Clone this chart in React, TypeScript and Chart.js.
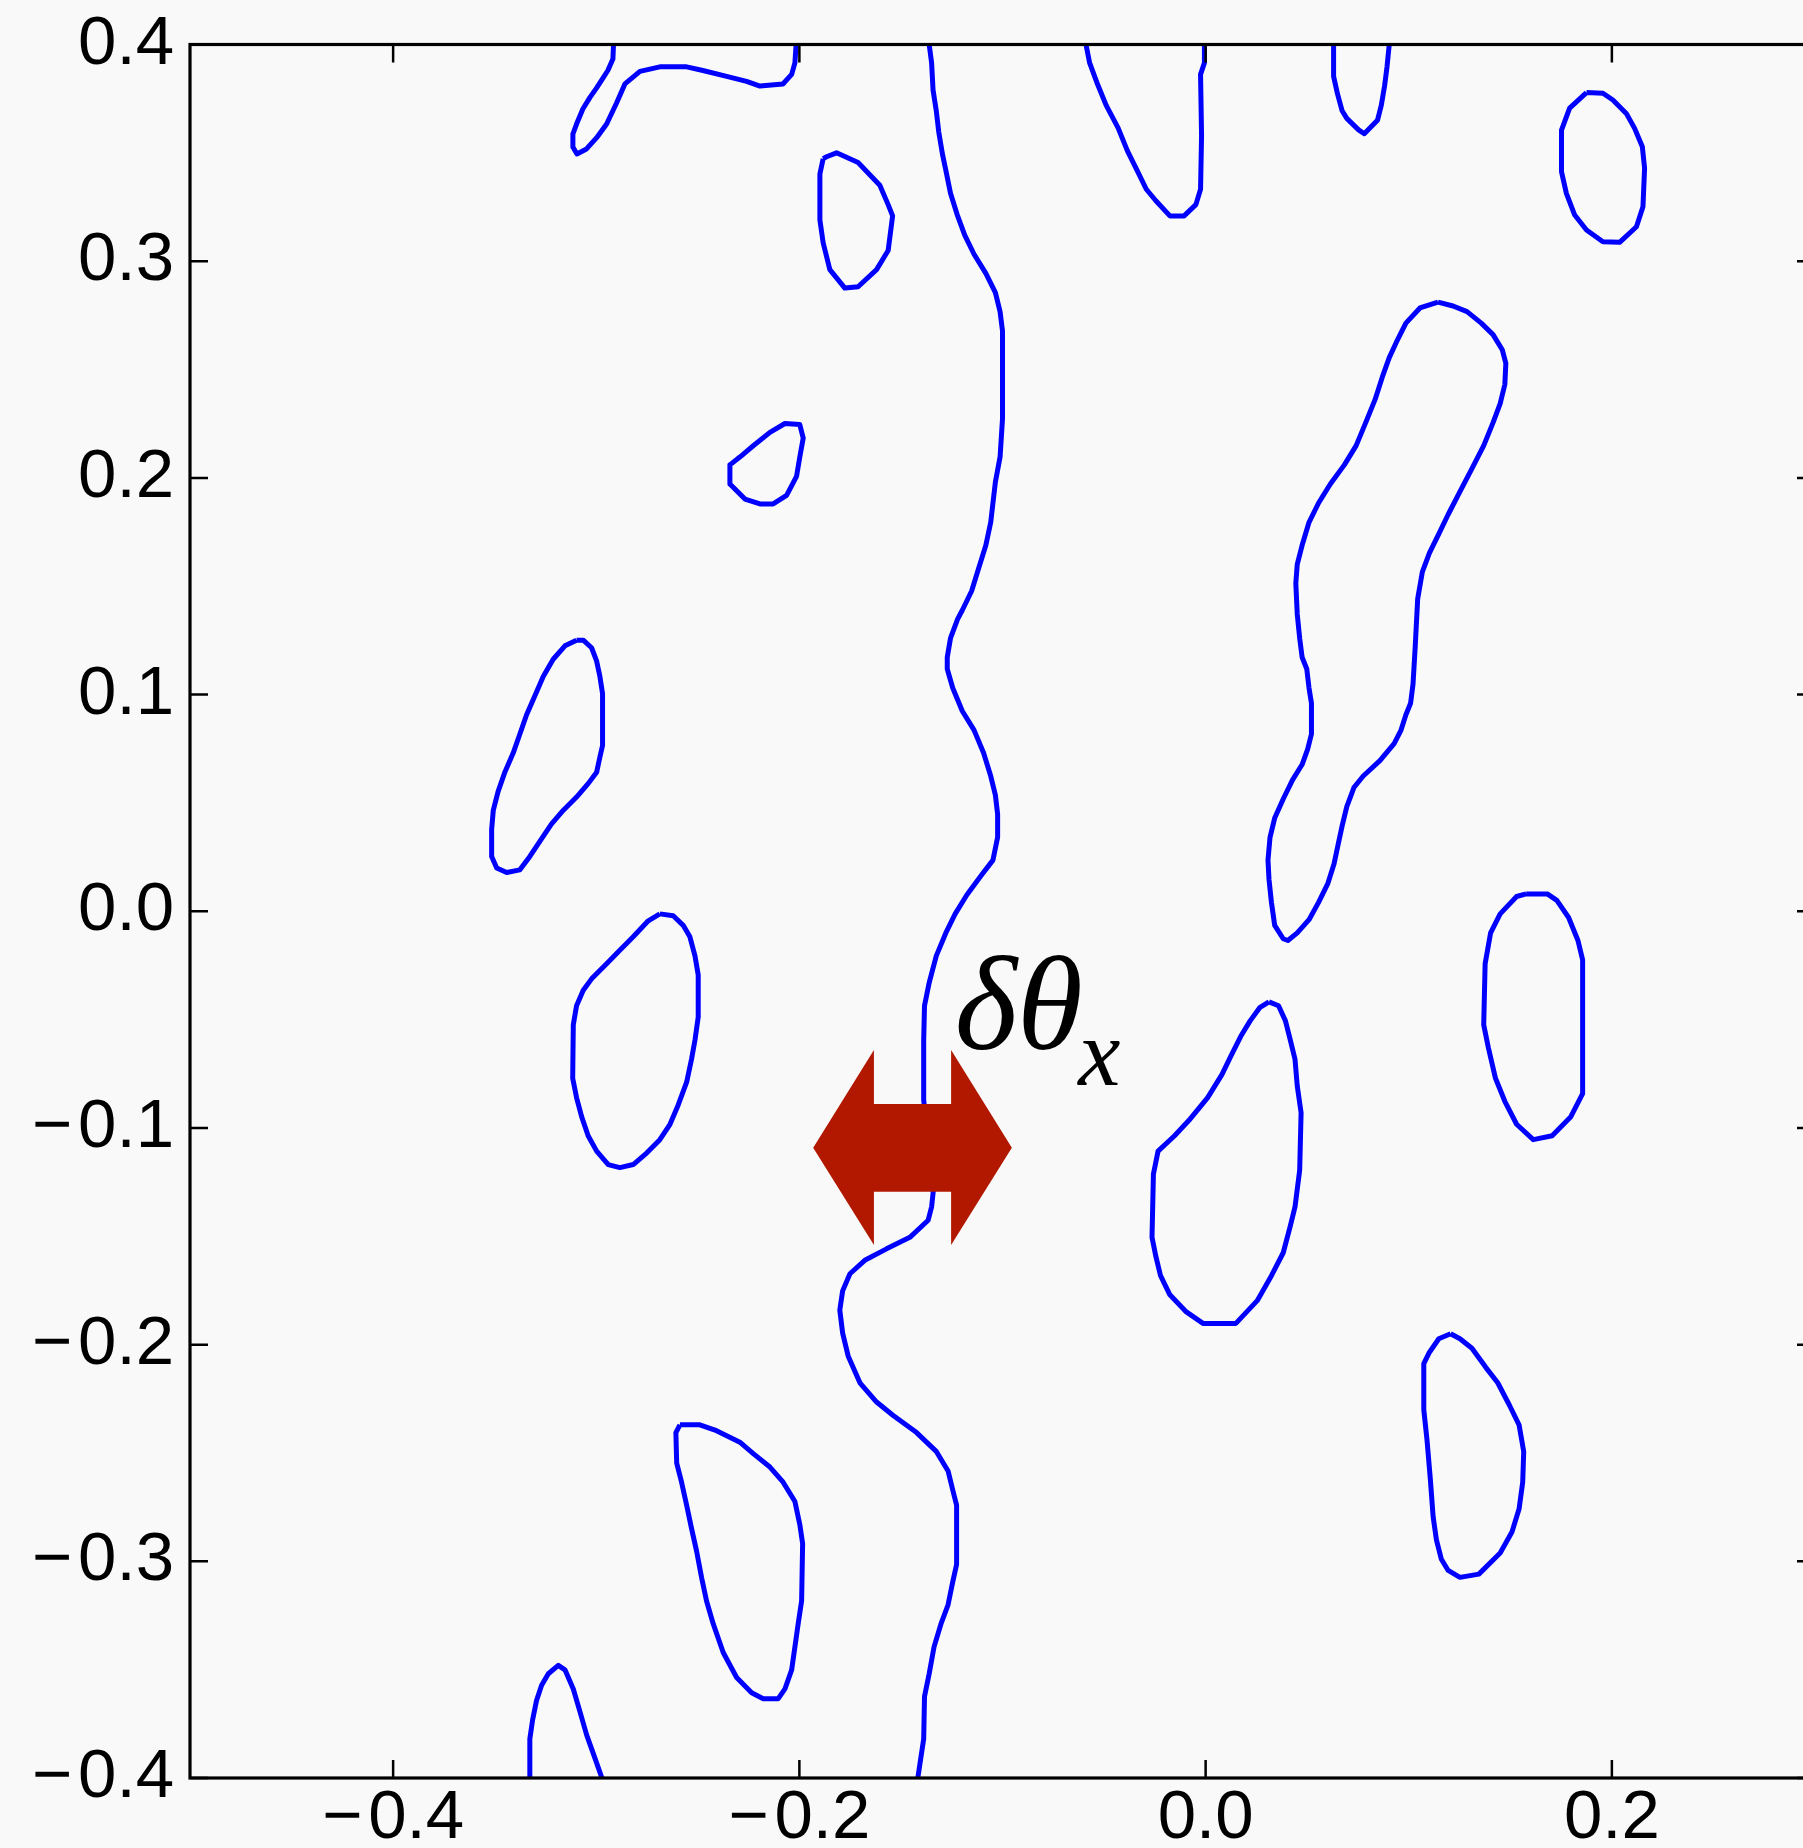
import React, { useEffect, useRef } from 'react';
import { Chart, registerables } from 'chart.js';

Chart.register(...registerables);

// ---- axis ticks ----
const xTicks = [-0.4, -0.2, 0.0, 0.2];
const yTicks = [-0.4, -0.3, -0.2, -0.1, 0.0, 0.1, 0.2, 0.3, 0.4];
const xRange = [-0.5, 0.3];
const yRange = [-0.4, 0.4];

// ---- contour lines (x, y) ----
const hookTopLeft: number[][] = [
  [-0.2915, 0.4], [-0.2918, 0.3933], [-0.2943, 0.388], [-0.2967, 0.3845], [-0.2998, 0.38], [-0.3031, 0.3756],
  [-0.3066, 0.3702], [-0.3097, 0.3633], [-0.3115, 0.3587], [-0.3115, 0.3527], [-0.3095, 0.3495], [-0.3048, 0.3518],
  [-0.2998, 0.357], [-0.2949, 0.3633], [-0.29, 0.373], [-0.2859, 0.3818], [-0.2785, 0.3876], [-0.2687, 0.3897],
  [-0.2555, 0.3897], [-0.2475, 0.388], [-0.2358, 0.3853], [-0.226, 0.383], [-0.2194, 0.3808], [-0.2081, 0.3818],
  [-0.2038, 0.3862], [-0.2022, 0.3915], [-0.2016, 0.4],
];
const ovalUpperLeft: number[][] = [
  [-0.1883, 0.3473], [-0.1899, 0.3402], [-0.1899, 0.3191], [-0.1883, 0.3085], [-0.185, 0.2961], [-0.1776, 0.2876],
  [-0.1711, 0.2882], [-0.162, 0.2961], [-0.1563, 0.3049], [-0.1541, 0.3209], [-0.1563, 0.3261], [-0.1604, 0.335],
  [-0.1711, 0.3455], [-0.1817, 0.35], [-0.1866, 0.3482], [-0.1883, 0.3473],
];
const dropUpperLeft: number[][] = [
  [-0.2342, 0.206], [-0.2342, 0.1972], [-0.2268, 0.1902], [-0.2194, 0.188], [-0.2129, 0.188], [-0.2063, 0.1919],
  [-0.2014, 0.2007], [-0.1998, 0.2096], [-0.1981, 0.2184], [-0.1998, 0.2246], [-0.2071, 0.2251], [-0.2145, 0.221],
  [-0.2227, 0.2148], [-0.2293, 0.2096], [-0.2342, 0.206],
];
const mainRidge: number[][] = [
  [-0.1361, 0.4], [-0.1349, 0.3915], [-0.1342, 0.3791], [-0.1326, 0.3694], [-0.1314, 0.3597], [-0.1295, 0.3491],
  [-0.1279, 0.342], [-0.1256, 0.3314], [-0.1221, 0.3209], [-0.1186, 0.312], [-0.114, 0.3032], [-0.1082, 0.2944],
  [-0.1035, 0.2855], [-0.1012, 0.2767], [-0.1, 0.2678], [-0.1, 0.2272], [-0.1012, 0.2096], [-0.1035, 0.1981],
  [-0.1047, 0.1884], [-0.1058, 0.1795], [-0.1082, 0.1689], [-0.1117, 0.1584], [-0.1152, 0.1478], [-0.1198, 0.1389],
  [-0.1221, 0.1348], [-0.1256, 0.126], [-0.1272, 0.1172], [-0.1272, 0.1118], [-0.1245, 0.103], [-0.1198, 0.0924],
  [-0.114, 0.0836], [-0.1093, 0.073], [-0.1058, 0.0624], [-0.1035, 0.0536], [-0.1024, 0.0447], [-0.1024, 0.0341],
  [-0.1047, 0.0236], [-0.1105, 0.0165], [-0.1175, 0.0076], [-0.1233, -0.0012], [-0.1279, -0.01], [-0.1326, -0.0206],
  [-0.1361, -0.033], [-0.1384, -0.0436], [-0.1388, -0.0595], [-0.1388, -0.0871], [-0.1341, -0.1293], [-0.1349, -0.1364],
  [-0.1366, -0.1426], [-0.1456, -0.1505], [-0.1571, -0.1558], [-0.1678, -0.1611], [-0.1751, -0.1673], [-0.1787, -0.1752],
  [-0.1801, -0.1841], [-0.1787, -0.1947], [-0.176, -0.2052], [-0.1702, -0.2176], [-0.162, -0.2265], [-0.1538, -0.2327],
  [-0.1423, -0.2406], [-0.1325, -0.2494], [-0.1268, -0.2583], [-0.1245, -0.2671], [-0.1226, -0.2741], [-0.1226, -0.3015],
  [-0.1245, -0.3095], [-0.1268, -0.3201], [-0.1303, -0.3289], [-0.1337, -0.3395], [-0.1361, -0.3519], [-0.1384, -0.3624],
  [-0.1388, -0.3819], [-0.1417, -0.4],
];
const vTopCenter: number[][] = [
  [-0.0589, 0.4], [-0.0571, 0.3915], [-0.0536, 0.3826], [-0.049, 0.372], [-0.0431, 0.3615], [-0.0385, 0.3509],
  [-0.0338, 0.342], [-0.0292, 0.3332], [-0.0245, 0.3279], [-0.0176, 0.3209], [-0.0106, 0.3209], [-0.0048, 0.3261],
  [-0.0025, 0.3332], [-0.002, 0.3579], [-0.0025, 0.3862], [-0.0006, 0.3915], [-0.0006, 0.4],
];
const uTopRight: number[][] = [
  [0.063, 0.4], [0.063, 0.3853], [0.0649, 0.3773], [0.0672, 0.3694], [0.0695, 0.3659], [0.0753, 0.3606],
  [0.0781, 0.3588], [0.0846, 0.365], [0.0865, 0.372], [0.0881, 0.3809], [0.0893, 0.3897], [0.0904, 0.4],
];
const ovalTopRight: number[][] = [
  [0.1875, 0.3778], [0.1792, 0.3706], [0.1752, 0.3605], [0.1752, 0.3413], [0.1776, 0.3313], [0.1817, 0.3213],
  [0.1875, 0.3144], [0.1956, 0.309], [0.2038, 0.3087], [0.2121, 0.3159], [0.2153, 0.3251], [0.2161, 0.3429],
  [0.215, 0.3528], [0.2112, 0.3613], [0.2071, 0.3682], [0.2005, 0.3744], [0.1956, 0.3775], [0.1875, 0.3778],
];
const longLobe: number[][] = [
  [0.1144, 0.2811], [0.1055, 0.2784], [0.0986, 0.2714], [0.0939, 0.2626], [0.0904, 0.2555], [0.087, 0.2466],
  [0.0834, 0.2361], [0.0788, 0.2255], [0.0741, 0.2149], [0.0683, 0.206], [0.0614, 0.1972], [0.0556, 0.1884],
  [0.0509, 0.1795], [0.0475, 0.1689], [0.0451, 0.1601], [0.0444, 0.1513], [0.0451, 0.1372], [0.0463, 0.126],
  [0.0475, 0.1172], [0.0498, 0.1118], [0.0509, 0.103], [0.0521, 0.096], [0.0521, 0.0818], [0.0502, 0.0747],
  [0.0475, 0.0677], [0.0428, 0.0606], [0.0382, 0.0518], [0.034, 0.043], [0.0317, 0.0341], [0.0307, 0.0236],
  [0.0312, 0.0147], [0.0324, 0.0041], [0.034, -0.0065], [0.0382, -0.0127], [0.0405, -0.0135], [0.0451, -0.01],
  [0.0509, -0.0039], [0.0556, 0.0041], [0.0602, 0.0129], [0.0632, 0.0218], [0.0656, 0.0324], [0.0672, 0.0394],
  [0.0695, 0.0483], [0.073, 0.0571], [0.0776, 0.0624], [0.0858, 0.0695], [0.0928, 0.0774], [0.0962, 0.0836],
  [0.0986, 0.0907], [0.1009, 0.096], [0.1021, 0.1048], [0.1032, 0.1225], [0.1044, 0.1442], [0.1067, 0.1566],
  [0.1102, 0.1654], [0.1148, 0.1742], [0.1194, 0.1831], [0.1252, 0.1937], [0.1311, 0.2043], [0.1369, 0.2149],
  [0.1415, 0.2255], [0.145, 0.2343], [0.1473, 0.2431], [0.1478, 0.2528], [0.1461, 0.259], [0.1415, 0.2661],
  [0.1357, 0.2714], [0.1287, 0.2767], [0.1218, 0.2793], [0.1144, 0.2811],
];
const leftUpper: number[][] = [
  [-0.3097, 0.1251], [-0.3154, 0.1225], [-0.3212, 0.1163], [-0.3261, 0.1083], [-0.3302, 0.0995], [-0.3343, 0.0907],
  [-0.3376, 0.0818], [-0.3409, 0.073], [-0.345, 0.0642], [-0.3483, 0.0553], [-0.3507, 0.0465], [-0.3515, 0.0377],
  [-0.3515, 0.0253], [-0.349, 0.02], [-0.3441, 0.0179], [-0.3376, 0.0191], [-0.3327, 0.0253], [-0.3277, 0.0324],
  [-0.322, 0.0403], [-0.3163, 0.0465], [-0.3097, 0.0527], [-0.304, 0.0589], [-0.2998, 0.0642], [-0.2982, 0.0712],
  [-0.2969, 0.0765], [-0.2969, 0.1004], [-0.2982, 0.1083], [-0.2998, 0.1154], [-0.3023, 0.1216], [-0.3064, 0.1251],
  [-0.3097, 0.1251],
];
const leftMiddle: number[][] = [
  [-0.2687, -0.0012], [-0.2744, -0.0044], [-0.2818, -0.0118], [-0.2884, -0.018], [-0.2949, -0.0242], [-0.3023, -0.0312],
  [-0.3064, -0.0365], [-0.3097, -0.0436], [-0.3113, -0.0524], [-0.3116, -0.0771], [-0.3097, -0.086], [-0.3072, -0.0948],
  [-0.304, -0.1036], [-0.2998, -0.1107], [-0.2941, -0.1169], [-0.2884, -0.1183], [-0.2818, -0.1169], [-0.2752, -0.1116],
  [-0.2687, -0.1054], [-0.2637, -0.0983], [-0.2597, -0.0895], [-0.2555, -0.0789], [-0.2531, -0.0683], [-0.2514, -0.0595],
  [-0.2498, -0.0488], [-0.2498, -0.0294], [-0.2514, -0.0206], [-0.2539, -0.0118], [-0.2572, -0.0065], [-0.2621, -0.0021],
  [-0.2687, -0.0012],
];
const centerLower: number[][] = [
  [0.0312, -0.0418], [0.0266, -0.0445], [0.0219, -0.0506], [0.0173, -0.0577], [0.0126, -0.0665], [0.008, -0.0754],
  [0.001, -0.086], [-0.0083, -0.0966], [-0.0153, -0.1036], [-0.0234, -0.1107], [-0.0257, -0.1213], [-0.0264, -0.1505],
  [-0.0245, -0.1593], [-0.0222, -0.1682], [-0.0176, -0.177], [-0.0095, -0.1849], [-0.0013, -0.1902], [0.0149, -0.1902],
  [0.0254, -0.1797], [0.0324, -0.1682], [0.0382, -0.1576], [0.0417, -0.1452], [0.044, -0.1364], [0.0463, -0.1195],
  [0.047, -0.093], [0.0451, -0.0806], [0.044, -0.0683], [0.0417, -0.0595], [0.0393, -0.0506], [0.0359, -0.0436],
  [0.0312, -0.0418],
];
const rightMiddle: number[][] = [
  [0.1578, 0.008], [0.1531, 0.0068], [0.145, -0.0012], [0.1403, -0.01], [0.1376, -0.0242], [0.1369, -0.0524],
  [0.1392, -0.063], [0.1427, -0.0771], [0.1473, -0.0877], [0.1531, -0.0983], [0.1613, -0.1054], [0.1706, -0.1036],
  [0.1798, -0.0948], [0.1856, -0.0842], [0.1856, -0.0224], [0.1833, -0.0135], [0.1787, -0.0029], [0.1729, 0.005],
  [0.1682, 0.008], [0.1578, 0.008],
];
const rightLower: number[][] = [
  [0.1206, -0.195], [0.1148, -0.1973], [0.1102, -0.2035], [0.1074, -0.2088], [0.1074, -0.23], [0.109, -0.2441],
  [0.1106, -0.2618], [0.112, -0.2794], [0.1136, -0.29], [0.116, -0.2989], [0.1194, -0.3042], [0.1252, -0.3074],
  [0.1345, -0.3059], [0.145, -0.2962], [0.1508, -0.2865], [0.1543, -0.2759], [0.1561, -0.2635], [0.1566, -0.2494],
  [0.1543, -0.237], [0.1497, -0.2282], [0.1438, -0.2176], [0.138, -0.2106], [0.1311, -0.2017], [0.1252, -0.1973],
  [0.1206, -0.195],
];
const leftLowerDrop: number[][] = [
  [-0.2588, -0.237], [-0.2608, -0.2406], [-0.2604, -0.2547], [-0.258, -0.2635], [-0.2555, -0.2741], [-0.2531, -0.2848],
  [-0.2506, -0.2953], [-0.2481, -0.3077], [-0.2457, -0.3183], [-0.2424, -0.3289], [-0.2375, -0.3421], [-0.2309, -0.3536],
  [-0.2235, -0.3607], [-0.2178, -0.3634], [-0.2104, -0.3634], [-0.2071, -0.3589], [-0.2038, -0.3501], [-0.2022, -0.3395],
  [-0.2006, -0.3289], [-0.1989, -0.3183], [-0.1984, -0.2918], [-0.1998, -0.283], [-0.2022, -0.2724], [-0.208, -0.2635],
  [-0.2145, -0.2565], [-0.2227, -0.2503], [-0.2293, -0.245], [-0.2408, -0.2397], [-0.249, -0.237], [-0.2588, -0.237],
];
const bottomLeft: number[][] = [
  [-0.3327, -0.4], [-0.3327, -0.3819], [-0.3313, -0.373], [-0.3294, -0.3642], [-0.3269, -0.3572], [-0.3236, -0.3519],
  [-0.3187, -0.348], [-0.3154, -0.3501], [-0.3113, -0.3589], [-0.308, -0.3695], [-0.3047, -0.3802], [-0.3007, -0.3907],
  [-0.2972, -0.4],
];

const contours = [
  hookTopLeft, ovalUpperLeft, dropUpperLeft, mainRidge, vTopCenter, uTopRight, ovalTopRight, longLobe,
  leftUpper, leftMiddle, centerLower, rightMiddle, rightLower, leftLowerDrop, bottomLeft,
];

// ---- annotation: double arrow polygon and label anchors ----
const arrowShape: number[][] = [
  [-0.1932, -0.1091], [-0.1633, -0.064], [-0.1633, -0.089], [-0.1253, -0.089], [-0.1253, -0.064],
  [-0.0954, -0.1091], [-0.1253, -0.154], [-0.1253, -0.1294], [-0.1633, -0.1294], [-0.1633, -0.154],
  [-0.1932, -0.1091],
];
const labelMain = { text: 'δθ', x: -0.1235, y: -0.0636 };
const labelSub = { text: 'x', x: -0.0627, y: -0.0802 };

const CONTOUR_COLOR = '#0000ff';
const ARROW_COLOR = '#b21800';
const TICK_LEN = 18;

const fmt = (v: number) => (v < -1e-9 ? '\u2212\u200a' : '') + Math.abs(v).toFixed(1);
const toXY = (pts: number[][]) => pts.map(([x, y]) => ({ x, y }));

const framePlugin = {
  id: 'frameTicksLabel',
  afterDatasetsDraw(chart: any) {
    const { ctx, chartArea: a, scales } = chart;
    const xs = scales.x;
    const ys = scales.y;
    ctx.save();
    ctx.strokeStyle = '#000';
    ctx.lineWidth = 2.5;
    ctx.beginPath();
    xTicks.forEach((v) => {
      const p = xs.getPixelForValue(v);
      ctx.moveTo(p, a.bottom);
      ctx.lineTo(p, a.bottom - TICK_LEN);
      ctx.moveTo(p, a.top);
      ctx.lineTo(p, a.top + TICK_LEN);
    });
    yTicks.forEach((v) => {
      const p = ys.getPixelForValue(v);
      ctx.moveTo(a.left, p);
      ctx.lineTo(a.left + TICK_LEN, p);
      ctx.moveTo(a.right, p);
      ctx.lineTo(a.right - TICK_LEN, p);
    });
    ctx.stroke();
    ctx.lineWidth = 3.2;
    ctx.strokeRect(a.left, a.top, a.right - a.left, a.bottom - a.top);

    ctx.fillStyle = '#000';
    ctx.textAlign = 'left';
    ctx.textBaseline = 'alphabetic';
    ctx.font = 'italic 134px "Liberation Serif"';
    ctx.fillText(labelMain.text, xs.getPixelForValue(labelMain.x), ys.getPixelForValue(labelMain.y));
    ctx.font = 'italic 95px "Liberation Serif"';
    ctx.fillText(labelSub.text, xs.getPixelForValue(labelSub.x), ys.getPixelForValue(labelSub.y));
    ctx.restore();
  },
};

export default function App() {
  const ref = useRef<HTMLCanvasElement | null>(null);

  useEffect(() => {
    document.body.style.background = '#f9f9f9';
    const canvas = ref.current;
    if (!canvas) return;

    const datasets: any[] = [
      {
        data: toXY(arrowShape),
        showLine: true,
        fill: 'shape',
        backgroundColor: ARROW_COLOR,
        borderColor: ARROW_COLOR,
        borderWidth: 0,
        pointRadius: 0,
        order: 0,
      },
      ...contours.map((c) => ({
        data: toXY(c),
        showLine: true,
        fill: false,
        borderColor: CONTOUR_COLOR,
        borderWidth: 5,
        borderJoinStyle: 'round',
        borderCapStyle: 'butt',
        pointRadius: 0,
        tension: 0,
        order: 1,
      })),
    ];

    const chart = new Chart(canvas, {
      type: 'scatter',
      data: { datasets },
      options: {
        animation: false,
        responsive: false,
        maintainAspectRatio: false,
        layout: { padding: { top: 44.5, right: 15, left: 0, bottom: 0 } },
        plugins: { legend: { display: false }, tooltip: { enabled: false } },
        scales: {
          x: {
            type: 'linear',
            min: xRange[0],
            max: xRange[1],
            grid: { display: false, drawTicks: false },
            border: { display: false },
            afterBuildTicks: (s: any) => {
              s.ticks = xTicks.map((v) => ({ value: v }));
            },
            afterFit: (s: any) => {
              s.height = 70;
            },
            ticks: {
              autoSkip: false,
              maxRotation: 0,
              padding: 6,
              color: '#000',
              font: { family: 'Liberation Sans', size: 69, lineHeight: 1 },
              callback: (v: any) => fmt(Number(v)),
            },
          },
          y: {
            type: 'linear',
            min: yRange[0],
            max: yRange[1],
            grid: { display: false, drawTicks: false },
            border: { display: false },
            afterBuildTicks: (s: any) => {
              s.ticks = yTicks.map((v) => ({ value: v }));
            },
            afterFit: (s: any) => {
              s.width = 190;
            },
            ticks: {
              autoSkip: false,
              padding: 16,
              color: '#000',
              font: { family: 'Liberation Sans', size: 69, lineHeight: 0.4 },
              callback: (v: any) => fmt(Number(v)),
            },
          },
        },
      },
      plugins: [framePlugin],
    } as any);

    return () => chart.destroy();
  }, []);

  return (
    <div
      style={{
        position: 'fixed',
        left: 0,
        top: 0,
        width: '100vw',
        height: '100vh',
        overflow: 'hidden',
        background: '#f9f9f9',
      }}
    >
      <canvas
        ref={ref}
        width={1830}
        height={1848}
        style={{ display: 'block', position: 'absolute', left: 0, top: 0, width: 1830, height: 1848 }}
      />
    </div>
  );
}
